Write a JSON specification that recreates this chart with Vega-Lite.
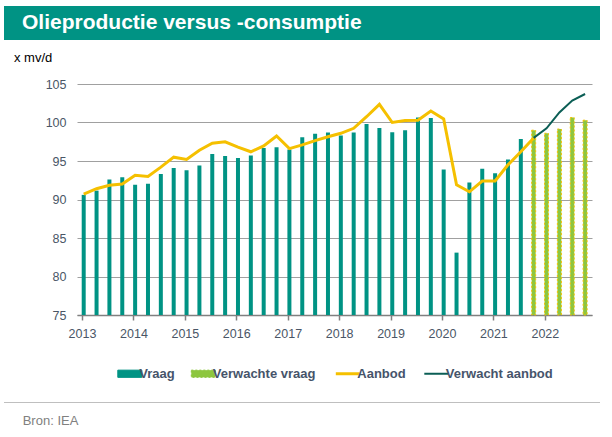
{
  "$schema": "https://vega.github.io/schema/vega-lite/v6.json",
  "padding": {"left": 4, "top": 6, "right": 5, "bottom": 5},
  "spacing": 13,
  "resolve": {"scale": {"color": "independent"}, "legend": {"color": "independent"}},
  "config": {"font": "Liberation Sans", "view": {"stroke": null}},
  "vconcat": [
    {
      "width": 596,
      "height": 34,
      "view": {"fill": "#009384", "stroke": null},
      "title": {"text": "x mv/d", "anchor": "start", "frame": "group", "orient": "bottom", "offset": 11.7, "dx": 10, "baseline": "top", "color": "#000000", "fontSize": 13, "fontWeight": "normal", "font": "Liberation Sans"},
      "data": {"values": [{"label": "Olieproductie versus -consumptie"}]},
      "mark": {"type": "text", "align": "left", "baseline": "middle", "x": 18, "y": 17, "color": "#ffffff", "fontSize": 21, "fontWeight": "bold", "font": "Liberation Sans"},
      "encoding": {"text": {"field": "label"}, "size": {"value": 21}}
    },
    {
      "hconcat": [
        {
          "width": 1,
          "height": 1,
          "data": {"values": [{"t": ""}]},
          "mark": {"type": "text"},
          "encoding": {"text": {"field": "t"}}
        },
        {
          "width": 515,
          "height": 231,
          "data": {"values": [
            {"t": 2013, "series": "Vraag", "value": 90.6},
            {"t": 2013.25, "series": "Vraag", "value": 91.15},
            {"t": 2013.5, "series": "Vraag", "value": 92.6},
            {"t": 2013.75, "series": "Vraag", "value": 92.9},
            {"t": 2014, "series": "Vraag", "value": 91.9},
            {"t": 2014.25, "series": "Vraag", "value": 92.05},
            {"t": 2014.5, "series": "Vraag", "value": 93.3},
            {"t": 2014.75, "series": "Vraag", "value": 94.1},
            {"t": 2015, "series": "Vraag", "value": 93.8},
            {"t": 2015.25, "series": "Vraag", "value": 94.4},
            {"t": 2015.5, "series": "Vraag", "value": 95.9},
            {"t": 2015.75, "series": "Vraag", "value": 95.65},
            {"t": 2016, "series": "Vraag", "value": 95.4},
            {"t": 2016.25, "series": "Vraag", "value": 95.7},
            {"t": 2016.5, "series": "Vraag", "value": 96.7},
            {"t": 2016.75, "series": "Vraag", "value": 96.8},
            {"t": 2017, "series": "Vraag", "value": 96.5},
            {"t": 2017.25, "series": "Vraag", "value": 98.1},
            {"t": 2017.5, "series": "Vraag", "value": 98.55},
            {"t": 2017.75, "series": "Vraag", "value": 98.7},
            {"t": 2018, "series": "Vraag", "value": 98.3},
            {"t": 2018.25, "series": "Vraag", "value": 98.7},
            {"t": 2018.5, "series": "Vraag", "value": 99.8},
            {"t": 2018.75, "series": "Vraag", "value": 99.3},
            {"t": 2019, "series": "Vraag", "value": 98.75},
            {"t": 2019.25, "series": "Vraag", "value": 99.0},
            {"t": 2019.5, "series": "Vraag", "value": 100.65},
            {"t": 2019.75, "series": "Vraag", "value": 100.6},
            {"t": 2020, "series": "Vraag", "value": 93.9},
            {"t": 2020.25, "series": "Vraag", "value": 83.1},
            {"t": 2020.5, "series": "Vraag", "value": 92.2},
            {"t": 2020.75, "series": "Vraag", "value": 94.0},
            {"t": 2021, "series": "Vraag", "value": 93.4},
            {"t": 2021.25, "series": "Vraag", "value": 95.2},
            {"t": 2021.5, "series": "Vraag", "value": 97.85},
            {"t": 2021.75, "series": "Verwachte vraag", "value": 99.0},
            {"t": 2022, "series": "Verwachte vraag", "value": 98.6},
            {"t": 2022.25, "series": "Verwachte vraag", "value": 99.15},
            {"t": 2022.5, "series": "Verwachte vraag", "value": 100.65},
            {"t": 2022.75, "series": "Verwachte vraag", "value": 100.3},
            {"t": 2013, "series": "Aanbod", "value": 90.7},
            {"t": 2013.25, "series": "Aanbod", "value": 91.4},
            {"t": 2013.5, "series": "Aanbod", "value": 91.85},
            {"t": 2013.75, "series": "Aanbod", "value": 92.0},
            {"t": 2014, "series": "Aanbod", "value": 93.15},
            {"t": 2014.25, "series": "Aanbod", "value": 93.0},
            {"t": 2014.5, "series": "Aanbod", "value": 94.2},
            {"t": 2014.75, "series": "Aanbod", "value": 95.5},
            {"t": 2015, "series": "Aanbod", "value": 95.2},
            {"t": 2015.25, "series": "Aanbod", "value": 96.4},
            {"t": 2015.5, "series": "Aanbod", "value": 97.3},
            {"t": 2015.75, "series": "Aanbod", "value": 97.5},
            {"t": 2016, "series": "Aanbod", "value": 96.8},
            {"t": 2016.25, "series": "Aanbod", "value": 96.2},
            {"t": 2016.5, "series": "Aanbod", "value": 96.95},
            {"t": 2016.75, "series": "Aanbod", "value": 98.25},
            {"t": 2017, "series": "Aanbod", "value": 96.6},
            {"t": 2017.25, "series": "Aanbod", "value": 97.1},
            {"t": 2017.5, "series": "Aanbod", "value": 97.65},
            {"t": 2017.75, "series": "Aanbod", "value": 98.15},
            {"t": 2018, "series": "Aanbod", "value": 98.6},
            {"t": 2018.25, "series": "Aanbod", "value": 99.25},
            {"t": 2018.5, "series": "Aanbod", "value": 100.75},
            {"t": 2018.75, "series": "Aanbod", "value": 102.35},
            {"t": 2019, "series": "Aanbod", "value": 100.0},
            {"t": 2019.25, "series": "Aanbod", "value": 100.25},
            {"t": 2019.5, "series": "Aanbod", "value": 100.3},
            {"t": 2019.75, "series": "Aanbod", "value": 101.5},
            {"t": 2020, "series": "Aanbod", "value": 100.45},
            {"t": 2020.25, "series": "Aanbod", "value": 91.9},
            {"t": 2020.5, "series": "Aanbod", "value": 91.0},
            {"t": 2020.75, "series": "Aanbod", "value": 92.4},
            {"t": 2021, "series": "Aanbod", "value": 92.4},
            {"t": 2021.25, "series": "Aanbod", "value": 94.5},
            {"t": 2021.5, "series": "Aanbod", "value": 96.2},
            {"t": 2021.75, "series": "Aanbod", "value": 98.0},
            {"t": 2021.75, "series": "Verwacht aanbod", "value": 98.0},
            {"t": 2022, "series": "Verwacht aanbod", "value": 99.25},
            {"t": 2022.25, "series": "Verwacht aanbod", "value": 101.3},
            {"t": 2022.5, "series": "Verwacht aanbod", "value": 102.85},
            {"t": 2022.75, "series": "Verwacht aanbod", "value": 103.7}
          ]},
          "encoding": {
            "x": {"field": "t", "type": "quantitative",
              "scale": {"domain": [2013, 2022.82], "nice": false, "zero": false},
              "axis": {"title": null, "values": [2013, 2014, 2015, 2016, 2017, 2018, 2019, 2020, 2021, 2022], "format": "d", "grid": false,
                "domainColor": "#808080", "domainWidth": 1.5, "tickColor": "#808080", "tickWidth": 1.5, "tickSize": 5,
                "labelPadding": 7, "labelFontSize": 12.5, "labelColor": "#4a5666", "labelFont": "Liberation Sans", "labelFlush": false}},
            "y": {"field": "value", "type": "quantitative",
              "scale": {"domain": [75, 105], "nice": false, "zero": false},
              "axis": {"title": "x mv/d", "titleAngle": 0, "titleAlign": "left", "titleBaseline": "middle", "titleX": -71.7, "titleY": 0,
                "titleFontSize": 13, "titleFontWeight": "normal", "titleColor": "transparent", "titleFont": "Liberation Sans",
                "values": [75, 80, 85, 90, 95, 100, 105], "grid": true, "gridColor": "#a0a0a0", "gridWidth": 1,
                "domain": false, "ticks": false, "labelPadding": 11, "labelFontSize": 12.5, "labelColor": "#4a5666", "labelFont": "Liberation Sans"}},
            "color": {"field": "series", "type": "nominal",
              "scale": {"domain": ["Vraag", "Verwachte vraag", "Aanbod", "Verwacht aanbod"], "range": ["#009384", "#8dc63f", "#f5c000", "#0b5e55"]},
              "legend": {"orient": "none", "legendX": 44.3, "legendY": 281, "padding": 2, "direction": "horizontal", "title": null,
                "labelFontSize": 13, "labelFontWeight": "bold", "labelColor": "#46546a", "labelFont": "Liberation Sans", "labelOffset": 3, "columnPadding": 13.5, "symbolSize": 576,
                "encode": {"symbols": {"update": {
                  "shape": {"signal": "(datum.value === 'Vraag' || datum.value === 'Verwachte vraag') ? 'M-1,-0.3H1V0.3H-1Z' : 'stroke'"},
                  "size": {"value": 576},
                  "fill": {"signal": "(datum.value === 'Vraag' || datum.value === 'Verwachte vraag') ? scale('color', datum.value) : 'transparent'"},
                  "stroke": {"signal": "datum.value === 'Vraag' ? 'transparent' : datum.value === 'Verwachte vraag' ? '#f5c000' : scale('color', datum.value)"},
                  "strokeDash": {"signal": "datum.value === 'Verwachte vraag' ? [2, 2] : []"},
                  "strokeWidth": {"signal": "datum.value === 'Aanbod' ? 3 : datum.value === 'Verwacht aanbod' ? 2 : 1"},
                  "opacity": {"value": 1}
                }}}}}
          },
          "layer": [
            {
              "transform": [{"filter": "datum.series === 'Vraag' || datum.series === 'Verwachte vraag'"}],
              "mark": {"type": "bar", "size": 4, "xOffset": 1.7, "strokeDash": [2, 2], "strokeWidth": 1},
              "encoding": {
                "y2": {"datum": 75},
                "stroke": {"condition": {"test": "datum.series === 'Verwachte vraag'", "value": "#f5c000"}, "value": "transparent"}
              }
            },
            {
              "transform": [{"filter": "datum.series === 'Aanbod'"}],
              "mark": {"type": "line", "strokeWidth": 3, "xOffset": 1.7}
            },
            {
              "transform": [{"filter": "datum.series === 'Verwacht aanbod'"}],
              "mark": {"type": "line", "strokeWidth": 2, "xOffset": 1.7}
            }
          ]
        }
      ],
      "spacing": 0,
      "align": "none",
      "resolve": {"scale": {"color": "independent"}, "legend": {"color": "independent"}}
    },
    {
      "width": 596,
      "height": 1,
      "view": {"fill": "#bfbfbf", "stroke": null},
      "title": {"text": "Bron: IEA", "anchor": "start", "frame": "group", "orient": "bottom", "offset": 7, "dx": 18.7, "baseline": "top", "color": "#808080", "fontSize": 13, "fontWeight": "normal", "font": "Liberation Sans"},
      "data": {"values": [{"t": ""}]},
      "mark": {"type": "text"},
      "encoding": {"text": {"field": "t"}}
    }
  ]
}
